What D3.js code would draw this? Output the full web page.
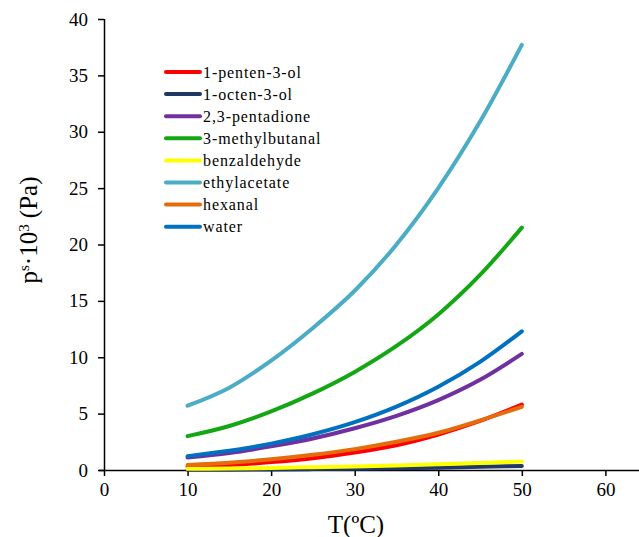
<!DOCTYPE html>
<html lang="en">
<head>
    <meta charset="UTF-8">
    <title>Vapour pressure vs temperature</title>
    <script src="https://d3js.org/d3.v7.min.js"></script>
    <style>
        body { margin: 0; background: #fff; }
        svg text { font-family: "Liberation Serif", "Times New Roman", serif; fill: #000; }
        .axis path, .axis line { stroke: #000; stroke-width: 1.5px; }
        .axis text { font-size: 19px; font-family: "Liberation Serif", "Times New Roman", serif; }
    </style>
</head>
<body>
<svg id="chart" width="639" height="537"></svg>
<script>
    // Temperatures (ºC) and vapour pressures p^s·10^3 (Pa)
    const temps = [10, 15, 20, 25, 30, 35, 40, 45, 50];
    const penten3ol   = [0.30, 0.45, 0.70, 1.05, 1.55, 2.20, 3.15, 4.35, 5.80];
    const octen3ol    = [0.02, 0.03, 0.05, 0.08, 0.11, 0.16, 0.21, 0.28, 0.36];
    const pentadione  = [1.10, 1.50, 2.10, 2.80, 3.70, 4.80, 6.20, 8.00, 10.3];
    const methylbutanal = [3.0, 3.9, 5.2, 6.8, 8.7, 11.0, 13.8, 17.3, 21.5];
    const benzaldehyde = [0.10, 0.13, 0.18, 0.25, 0.32, 0.40, 0.50, 0.62, 0.75];
    const ethylacetate = [5.7, 7.3, 9.7, 12.6, 15.9, 20.0, 25.0, 30.9, 37.7];
    const hexanal     = [0.45, 0.65, 0.95, 1.35, 1.85, 2.50, 3.30, 4.40, 5.60];
    const water       = [1.23, 1.70, 2.34, 3.17, 4.24, 5.62, 7.38, 9.59, 12.3];

    const seriesNames = ["1-penten-3-ol", "1-octen-3-ol", "2,3-pentadione", "3-methylbutanal",
        "benzaldehyde", "ethylacetate", "hexanal", "water"];
    const seriesValues = [penten3ol, octen3ol, pentadione, methylbutanal,
        benzaldehyde, ethylacetate, hexanal, water];
    const colors = ["#ff0000", "#1f3864", "#7030a0", "#13a813",
        "#ffff00", "#4bacc6", "#e46c0a", "#0070c0"];

    const xTicks = [0, 10, 20, 30, 40, 50, 60];
    const yTicks = [0, 5, 10, 15, 20, 25, 30, 35, 40];

    const svg = d3.select("#chart");

    const x = d3.scaleLinear().domain([0, 64.5]).range([104, 643]);
    const y = d3.scaleLinear().domain([0, 40]).range([470, 19]);

    // Axes
    svg.append("g")
        .attr("class", "axis")
        .attr("transform", "translate(0,470)")
        .call(d3.axisBottom(x).tickValues(xTicks).tickSize(6).tickPadding(7).tickSizeOuter(0))
        .call(g => g.select(".domain").attr("d", "M99,0.5H639"));

    svg.append("g")
        .attr("class", "axis")
        .attr("transform", "translate(104,0)")
        .call(d3.axisLeft(y).tickValues(yTicks).tickSize(6).tickPadding(10).tickSizeOuter(0))
        .call(g => g.select(".domain").attr("d", "M0.5,470V19"));

    // Lines (smoothed, like the original)
    const line = d3.line()
        .x((d, i) => x(temps[i]))
        .y(d => y(d))
        .curve(d3.curveMonotoneX);

    seriesValues.forEach((vals, k) => {
        svg.append("path")
            .datum(vals)
            .attr("fill", "none")
            .attr("stroke", colors[k])
            .attr("stroke-width", 4)
            .attr("stroke-linecap", "round")
            .attr("stroke-linejoin", "round")
            .attr("d", line);
    });

    // Legend
    const legend = svg.append("g").attr("transform", "translate(166,72)");
    seriesNames.forEach((name, k) => {
        const row = legend.append("g").attr("transform", `translate(0,${k * 22.1})`);
        row.append("line")
            .attr("x1", 0).attr("x2", 34)
            .attr("stroke", colors[k])
            .attr("stroke-width", 4)
            .attr("stroke-linecap", "round");
        row.append("text")
            .attr("x", 37)
            .attr("dy", "0.35em")
            .style("font-size", "16px")
            .style("letter-spacing", "0.9px")
            .text(name);
    });

    // Axis titles
    svg.append("text")
        .attr("transform", "translate(37,230) rotate(-90)")
        .attr("text-anchor", "middle")
        .style("font-size", "25px")
        .html('p<tspan baseline-shift="super" font-size="15px">s</tspan>·10<tspan baseline-shift="super" font-size="15px">3</tspan> (Pa)');

    svg.append("text")
        .attr("x", 356)
        .attr("y", 533)
        .attr("text-anchor", "middle")
        .style("font-size", "25px")
        .text("T(ºC)");
</script>
</body>
</html>
